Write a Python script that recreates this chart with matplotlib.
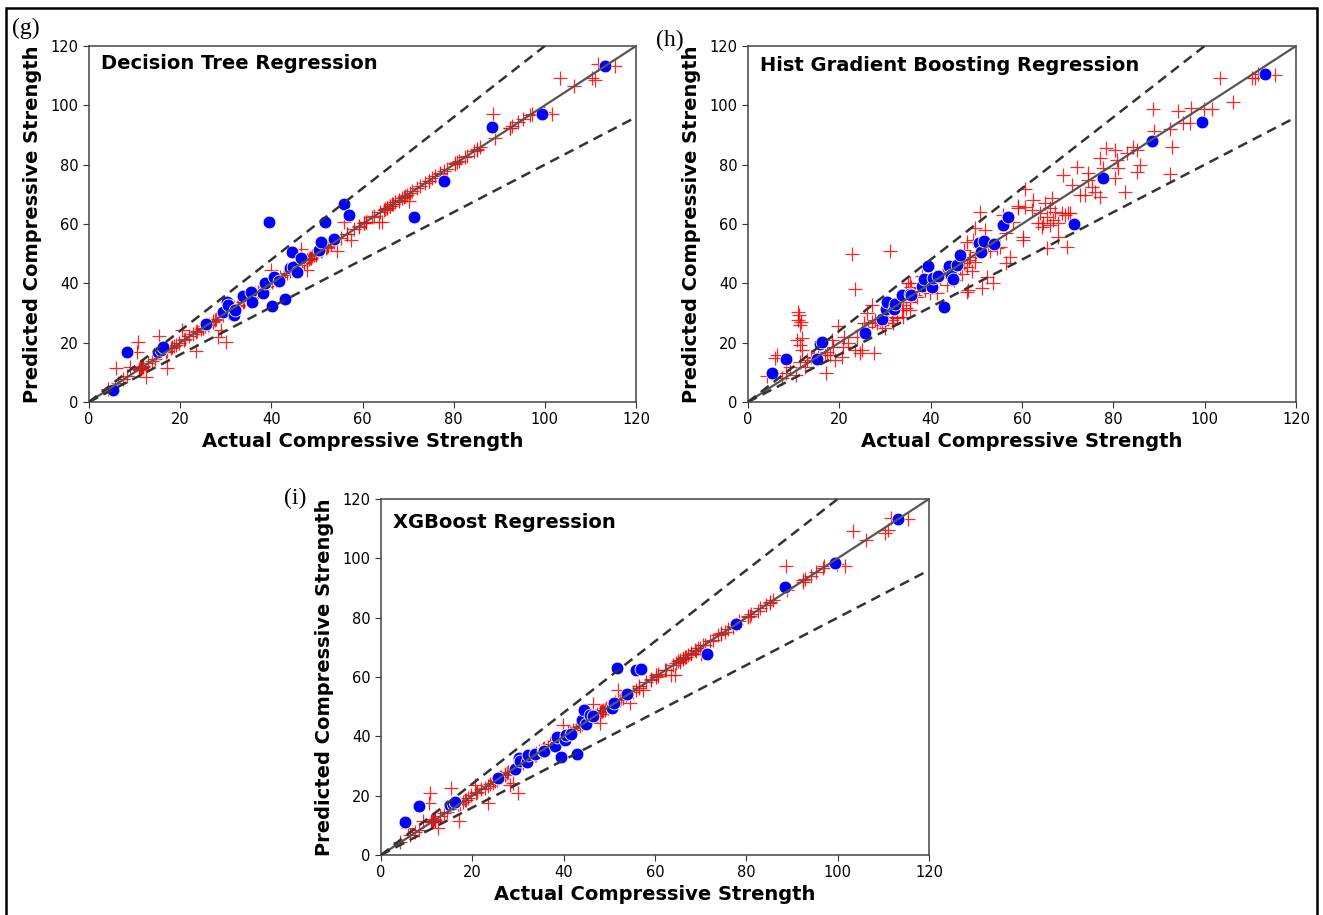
import matplotlib
matplotlib.use("Agg")
import matplotlib.pyplot as plt
from matplotlib.patches import Rectangle

# test set (blue dots): actual vs predicted
test_actual = [5.2, 8.3, 15.2, 15.8, 16.2, 25.6, 29.4, 30.3, 30.5, 31.9, 32.1, 33.7, 35.5,
               35.8, 38.1, 38.6, 39.5, 40.2, 40.6, 41.6, 42.9, 44.1, 44.5, 44.8, 45.7,
               46.4, 50.5, 51.0, 51.7, 53.8, 55.9, 57.0, 71.4, 77.8, 88.5, 99.4, 113.2]
dt_test = [3.9, 16.7, 16.9, 17.5, 18.4, 26.3, 30.2, 33.8, 32.7, 29.3, 31.0, 35.8, 37.2,
           33.6, 36.6, 40.0, 60.6, 32.5, 42.3, 40.8, 34.6, 45.1, 50.7, 45.6, 43.9,
           48.7, 51.3, 53.9, 60.6, 54.9, 66.8, 62.9, 62.5, 74.4, 92.6, 97.2, 113.2]
hgb_test = [9.9, 14.4, 14.4, 19.4, 20.3, 23.4, 27.9, 31.5, 33.6, 31.5, 33.0, 36.1, 36.4,
            36.0, 39.2, 41.4, 45.9, 38.9, 41.9, 42.5, 31.9, 45.9, 42.8, 41.4, 46.2,
            49.4, 53.5, 50.7, 54.4, 53.3, 59.5, 62.2, 60.1, 75.5, 87.9, 94.3, 110.4]
xgb_test = [11.2, 16.6, 16.9, 17.2, 17.7, 26.1, 29.0, 32.6, 31.8, 31.5, 33.7, 34.1, 34.9,
            35.2, 36.9, 39.7, 33.0, 38.8, 40.5, 40.8, 34.1, 45.6, 48.9, 44.2, 47.2,
            46.7, 49.5, 51.4, 63.0, 54.3, 62.2, 62.7, 67.8, 77.9, 90.2, 98.4, 113.3]

# training set (red crosses)
train_actual = [
    4.1, 5.9, 6.3, 7.5, 8.4, 9.1, 10.6, 10.7, 11.0, 11.0,
    11.2, 11.3, 11.3, 11.4, 11.6, 11.8, 11.8, 12.4, 13.0, 13.8,
    14.5, 15.3, 16.9, 17.1, 17.2, 18.0, 18.3, 18.7, 19.0, 19.8,
    20.5, 20.9, 21.0, 22.0, 22.8, 23.4, 23.4, 23.8, 24.5, 24.9,
    24.9, 25.5, 26.0, 26.3, 27.1, 27.1, 27.6, 27.8, 28.2, 28.9,
    29.3, 30.0, 30.4, 30.7, 31.1, 31.5, 31.8, 32.6, 32.6, 33.7,
    34.0, 34.0, 34.7, 34.7, 35.1, 35.5, 35.5, 35.5, 35.8, 36.5,
    37.0, 37.5, 38.0, 38.8, 39.0, 39.9, 40.2, 41.0, 41.3, 42.0,
    42.8, 43.0, 43.5, 44.0, 44.5, 45.0, 45.5, 46.0, 46.4, 46.8,
    47.2, 47.2, 47.9, 47.9, 47.9, 48.2, 48.5, 48.6, 49.0, 49.3,
    49.7, 49.7, 50.0, 50.8, 51.2, 51.9, 52.3, 52.5, 53.0, 53.7,
    54.5, 55.2, 55.9, 56.6, 56.6, 57.4, 58.1, 59.2, 59.2, 60.3,
    60.3, 60.7, 60.7, 62.1, 62.5, 63.6, 63.9, 64.3, 64.7, 65.0,
    65.4, 65.4, 66.1, 66.1, 66.5, 66.8, 67.2, 67.9, 67.9, 68.7,
    69.0, 69.4, 69.8, 70.1, 70.5, 70.9, 72.0, 72.7, 73.8, 74.5,
    74.5, 75.3, 76.0, 77.1, 77.1, 77.8, 78.5, 80.4, 80.4, 80.7,
    81.1, 82.5, 82.9, 84.4, 85.1, 85.1, 85.8, 88.6, 89.0, 92.4,
    92.4, 92.8, 94.2, 95.2, 96.8, 97.1, 99.8, 101.5, 103.4, 106.3,
    110.3, 111.0, 111.7, 115.4]
dt_train = [
    4.3, 11.3, 6.5, 7.6, 8.6, 11.8, 16.9, 20.3, 10.8, 11.2,
    11.0, 11.5, 11.4, 11.6, 11.8, 12.0, 11.7, 8.5, 13.2, 13.9,
    14.6, 22.2, 17.0, 11.5, 17.3, 18.2, 18.5, 18.8, 19.3, 19.9,
    24.2, 21.0, 21.2, 22.1, 22.9, 23.6, 17.2, 23.9, 24.6, 25.0,
    24.8, 25.6, 26.1, 26.4, 27.2, 27.0, 27.7, 27.9, 22.0, 24.2,
    29.4, 20.3, 30.5, 30.8, 31.2, 31.6, 31.9, 32.7, 32.5, 33.8,
    34.1, 33.9, 34.8, 34.6, 35.2, 35.6, 35.4, 35.5, 35.9, 36.6,
    37.1, 37.6, 38.1, 38.9, 39.1, 44.5, 40.3, 41.1, 41.4, 42.1,
    42.9, 43.1, 43.6, 44.1, 44.6, 45.1, 45.6, 46.1, 51.5, 46.9,
    47.3, 47.1, 44.5, 48.0, 47.8, 48.3, 48.6, 48.7, 49.1, 49.4,
    49.8, 49.6, 50.1, 50.9, 51.3, 52.0, 52.4, 52.6, 53.1, 53.8,
    51.0, 55.3, 60.8, 56.7, 56.5, 54.6, 58.2, 59.3, 59.1, 60.4,
    60.2, 60.8, 60.6, 62.2, 62.6, 60.8, 64.0, 60.8, 64.8, 65.1,
    65.5, 65.3, 66.2, 66.0, 66.6, 66.9, 67.3, 68.0, 67.8, 68.8,
    69.1, 69.5, 69.9, 67.6, 70.6, 71.0, 72.1, 72.8, 73.9, 74.6,
    74.4, 75.4, 76.1, 77.2, 77.0, 77.9, 78.6, 80.5, 80.3, 80.8,
    81.2, 82.6, 83.0, 84.5, 85.2, 85.0, 85.9, 97.1, 89.0, 92.5,
    92.3, 92.9, 94.3, 95.3, 96.9, 97.2, 97.8, 97.1, 109.1, 106.5,
    109.1, 108.7, 113.8, 113.2]
hgb_train = [
    8.8, 14.7, 15.8, 8.0, 9.7, 11.9, 9.1, 20.9, 30.4, 27.6,
    29.3, 26.0, 13.6, 19.2, 27.1, 21.7, 17.5, 11.9, 14.0, 15.3,
    15.0, 16.5, 15.8, 9.7, 17.0, 15.8, 20.9, 18.6, 14.2, 25.6,
    15.3, 18.6, 22.0, 19.8, 49.9, 38.0, 17.5, 22.0, 16.4, 17.5,
    24.3, 26.5, 29.9, 25.4, 27.1, 32.7, 16.4, 27.6, 26.5, 27.6,
    26.0, 24.8, 29.9, 28.8, 51.0, 27.6, 26.5, 28.2, 28.8, 31.0,
    32.7, 28.8, 31.6, 37.7, 40.0, 33.8, 31.0, 40.0, 38.9, 36.0,
    35.5, 38.5, 42.5, 37.7, 40.5, 36.6, 38.9, 42.0, 36.6, 41.7,
    43.4, 44.0, 39.5, 44.8, 43.5, 41.0, 47.0, 47.5, 45.1, 43.0,
    46.7, 51.2, 45.6, 54.0, 37.2, 37.7, 48.0, 49.0, 44.0, 54.6,
    58.5, 47.3, 50.5, 64.1, 38.3, 58.0, 42.2, 53.0, 51.0, 40.0,
    52.0, 52.3, 63.0, 56.9, 46.7, 49.0, 60.8, 65.3, 66.2, 55.7,
    54.6, 65.8, 71.8, 64.7, 68.1, 60.4, 63.6, 59.1, 60.4, 67.0,
    62.5, 51.8, 65.3, 59.7, 68.7, 61.3, 64.1, 60.2, 55.7, 63.6,
    76.5, 63.0, 52.3, 63.6, 63.6, 73.1, 79.3, 69.8, 69.8, 77.1,
    74.8, 72.6, 70.9, 69.2, 82.1, 78.8, 85.5, 84.9, 75.4, 81.6,
    78.8, 70.9, 83.8, 86.0, 84.9, 77.6, 79.9, 98.8, 91.5, 76.8,
    91.9, 85.8, 98.1, 93.9, 93.9, 99.0, 98.8, 98.8, 109.1, 101.2,
    109.1, 109.1, 110.4, 110.2]
xgb_train = [
    4.5, 9.0, 6.7, 7.8, 8.4, 11.6, 17.4, 20.8, 11.0, 11.4,
    11.2, 11.3, 11.6, 11.4, 12.0, 11.9, 11.6, 9.0, 13.0, 14.1,
    14.4, 22.5, 17.2, 11.6, 17.1, 18.0, 18.6, 18.6, 19.1, 20.1,
    23.6, 20.8, 21.4, 22.3, 22.7, 23.4, 17.4, 24.1, 24.4, 25.2,
    24.9, 25.4, 26.3, 26.2, 27.4, 26.9, 27.5, 28.1, 23.6, 24.4,
    29.2, 20.8, 30.3, 31.0, 31.0, 31.8, 31.7, 32.9, 32.4, 33.6,
    34.3, 33.8, 34.6, 34.9, 35.0, 35.8, 35.3, 35.7, 36.1, 36.4,
    37.3, 37.4, 38.3, 38.7, 39.3, 43.9, 40.1, 41.3, 41.2, 42.3,
    42.7, 43.3, 43.4, 44.3, 44.4, 45.3, 45.4, 46.3, 50.8, 46.7,
    47.5, 47.0, 44.4, 48.2, 47.6, 48.5, 48.4, 48.9, 49.0, 49.6,
    49.9, 49.5, 50.3, 50.7, 51.5, 55.7, 52.2, 52.8, 52.9, 54.0,
    51.4, 55.1, 55.7, 56.9, 56.4, 55.7, 58.4, 59.1, 59.3, 60.6,
    60.0, 61.0, 60.4, 62.4, 62.4, 60.7, 64.2, 60.7, 64.6, 65.3,
    65.7, 65.1, 66.4, 65.9, 66.8, 66.7, 67.5, 68.2, 67.6, 69.0,
    68.9, 69.7, 69.7, 67.9, 70.8, 70.8, 72.3, 72.6, 74.1, 74.4,
    74.7, 75.2, 76.3, 77.0, 77.3, 77.7, 78.8, 80.3, 80.6, 80.6,
    81.4, 82.4, 83.2, 84.3, 85.4, 84.9, 86.1, 97.3, 89.4, 92.7,
    92.1, 93.1, 94.1, 95.5, 96.7, 97.4, 98.0, 97.3, 109.3, 106.3,
    108.5, 109.7, 113.6, 113.3]

panels = [
    ("(g)", "Decision Tree Regression", dt_train, dt_test),
    ("(h)", "Hist Gradient Boosting Regression", hgb_train, hgb_test),
    ("(i)", "XGBoost Regression", xgb_train, xgb_test),
]

W, H = 1323, 915
fig = plt.figure(figsize=(W / 100, H / 100), dpi=100)

# axes boxes in pixels: left, top, right, bottom
boxes = [(89, 46, 636, 402), (748, 46, 1296, 402), (381, 499, 929, 855)]
tag_pos = [(26, 28), (670, 40), (295, 498)]
title_y = [0.952, 0.944, 0.933]

for (tag, name, tr_pred, te_pred), box, tp, ty in zip(panels, boxes, tag_pos, title_y):
    l, t, r, b = box
    ax = fig.add_axes([l / W, 1 - b / H, (r - l) / W, (b - t) / H])

    ax.scatter(train_actual, tr_pred, marker="+", s=90, color="red",
               linewidths=0.9, alpha=0.85, zorder=2)
    ax.scatter(test_actual, te_pred, marker="o", s=85, color="blue",
               edgecolors="white", linewidths=0.6, zorder=3)

    ax.plot([0, 120], [0, 120], color="#555555", lw=1.6, zorder=4)
    ax.plot([0, 120], [0, 144], color="#333333", lw=1.8, ls=(0, (4, 2.5)), zorder=4)
    ax.plot([0, 120], [0, 96], color="#333333", lw=1.8, ls=(0, (4, 2.5)), zorder=4)

    ax.set_xlim(0, 120)
    ax.set_ylim(0, 120)
    ax.set_xticks(range(0, 121, 20))
    ax.set_yticks(range(0, 121, 20))
    ax.tick_params(labelsize=10.5, length=4, color="#333333")
    for sp in ax.spines.values():
        sp.set_color("#444444")
        sp.set_linewidth(1.1)

    ax.set_xlabel("Actual Compressive Strength", fontsize=14, fontweight="bold", labelpad=3)
    ax.set_ylabel("Predicted Compressive Strength", fontsize=14, fontweight="bold", labelpad=6)
    ax.text(0.022, ty, name, transform=ax.transAxes, fontsize=14,
            fontweight="bold", va="center", ha="left")

    fig.text(tp[0] / W, 1 - tp[1] / H, tag, family="Liberation Serif",
             fontsize=17, ha="center", va="center")

# outer frame
fig.add_artist(Rectangle((6 / W, -0.05), (1317 - 6) / W, 1.05 - 8 / H,
                         transform=fig.transFigure, fill=False,
                         edgecolor="black", lw=1.8))

fig.savefig("out.png", dpi=100, facecolor="white")
